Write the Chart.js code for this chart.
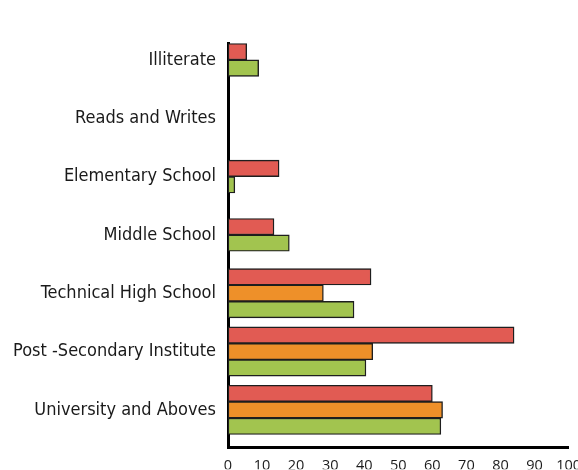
<!DOCTYPE html>
<html>
<head>
<meta charset="utf-8">
<script src="https://cdn.jsdelivr.net/npm/chart.js@4.4.1/dist/chart.umd.min.js"></script>
<style>
  html, body { margin: 0; padding: 0; background: #fff; overflow: hidden; }
  canvas { display: block; }
</style>
</head>
<body>
<canvas id="chart" width="591" height="470"></canvas>
<script>
// categories top to bottom
const categories = [
  'Illiterate',
  'Reads and Writes',
  'Elementary School',
  'Middle School',
  'Technical High School',
  'Post -Secondary Institute',
  'University and Aboves'
]
// null = no bar drawn
const redValues = [5.5, null, 15, 13.5, 42, 84, 60]
const orangeValues = [null, null, null, null, 28, 42.5, 63]
const greenValues = [9, null, 2, 18, 37, 40.5, 62.5]

const xMin = 0
const xMax = 100
const xStep = 10

function toPoints(values) {
  return values.map((v, i) => ({ x: v, y: i }))
}

function makeDataset(label, values, color) {
  return {
    label: label,
    data: toPoints(values),
    backgroundColor: color,
    borderColor: '#1e1e1e',
    borderWidth: 1.4,
    borderSkipped: false,
    barThickness: 16.4
  }
}

const ctx = document.getElementById('chart').getContext('2d')
const chart = new Chart(ctx, {
  type: 'bar',
  data: {
    datasets: [
      makeDataset('Series 1', redValues, '#E15B53'),
      makeDataset('Series 2', orangeValues, '#EE9029'),
      makeDataset('Series 3', greenValues, '#A2C44F')
    ]
  },
  options: {
    indexAxis: 'y',
    responsive: false,
    animation: false,
    skipNull: true,
    layout: { padding: { top: 43, left: 0, right: 0, bottom: 0 } },
    plugins: {
      legend: { display: false },
      title: { display: false },
      tooltip: { enabled: false }
    },
    scales: {
      x: {
        type: 'linear',
        min: xMin,
        max: xMax,
        ticks: {
          stepSize: xStep,
          padding: 10,
          color: '#1a1a1a',
          font: { family: "'Open Sans', sans-serif", size: 14.5 }
        },
        grid: { display: false, drawTicks: false },
        border: { display: true, color: '#000', width: 3 },
        afterFit: (scale) => { scale.height = 22 }
      },
      y: {
        type: 'linear',
        reverse: true,
        offset: false,
        min: -0.29,
        max: 6.64,
        afterBuildTicks: (scale) => {
          scale.ticks = categories.map((c, i) => ({ value: i }))
        },
        ticks: {
          callback: (value) => categories[value],
          padding: 12,
          color: '#1a1a1a',
          font: { family: "'DejaVu Sans Condensed', sans-serif", size: 18 }
        },
        grid: { display: false, drawTicks: false },
        border: { display: true, color: '#000', width: 3 },
        afterFit: (scale) => { scale.width = 228 }
      }
    }
  }
})
</script>
</body>
</html>
